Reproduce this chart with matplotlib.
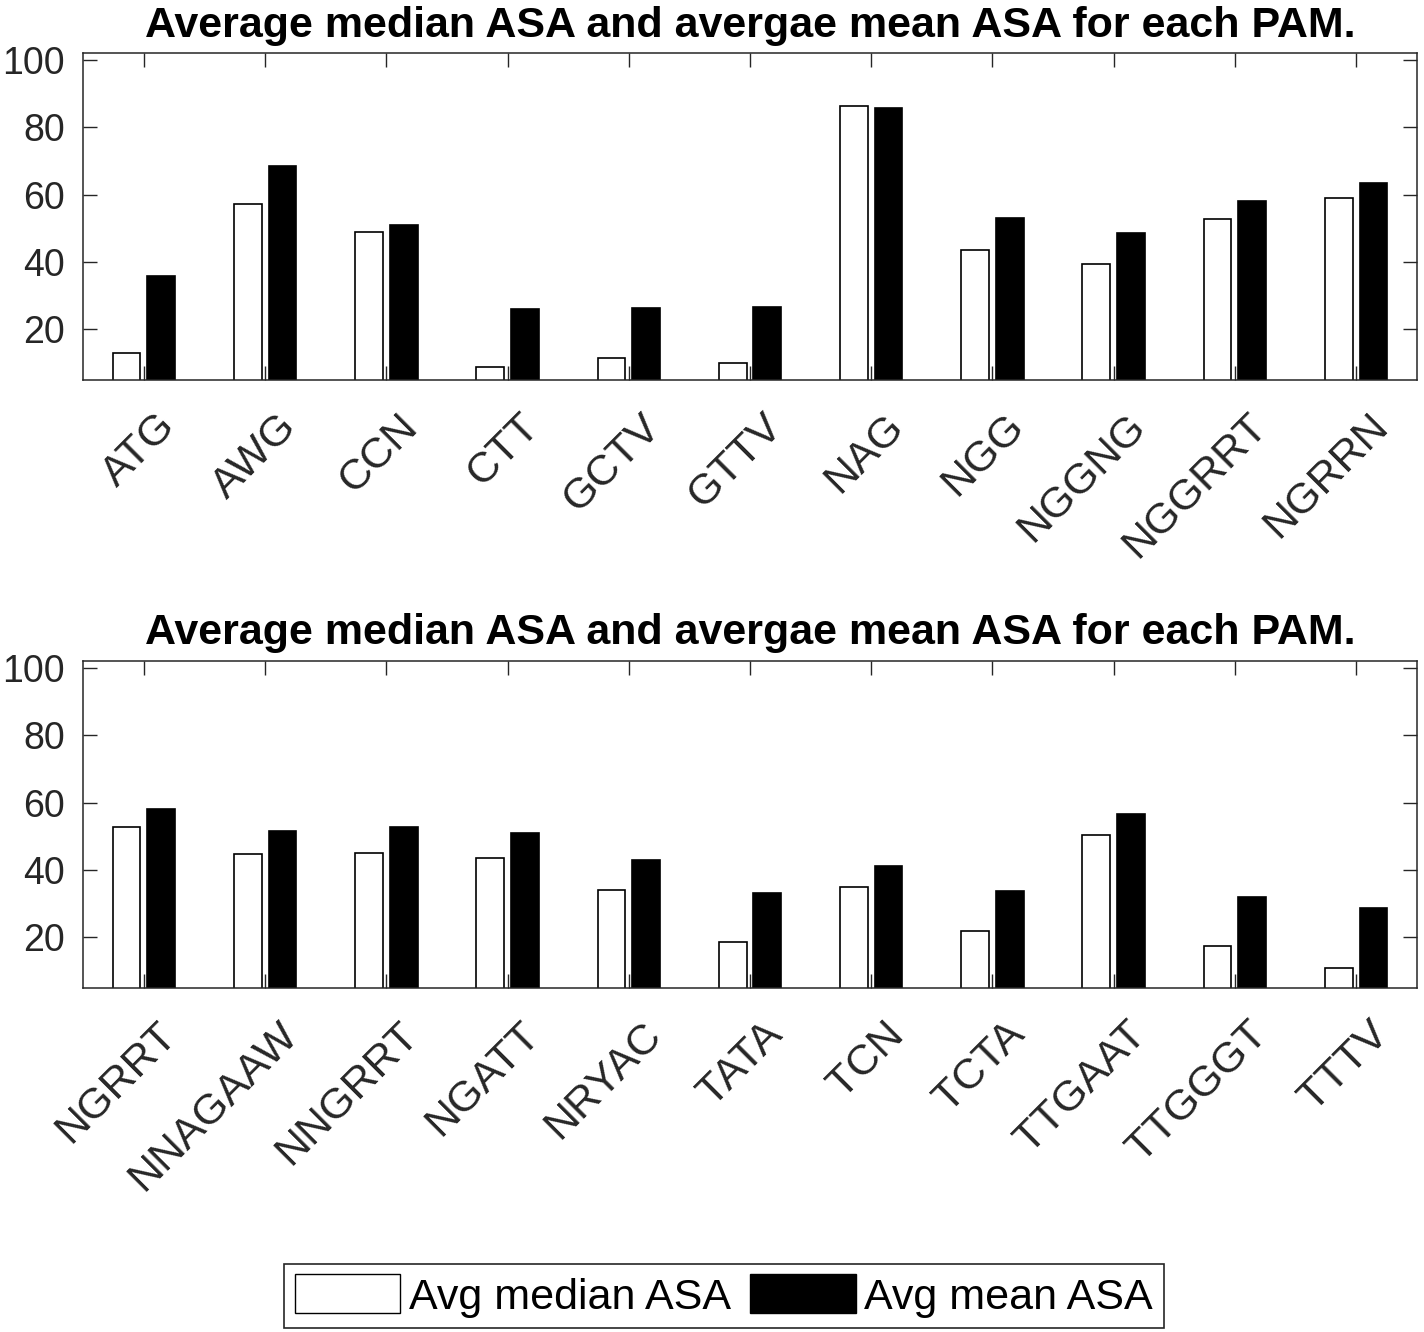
import numpy as np
import matplotlib
matplotlib.use("Agg")
from matplotlib import pyplot as plt
from matplotlib import font_manager
from matplotlib.patches import Patch
from matplotlib.transforms import ScaledTranslation

# PAM names and ASA values
pams_top = ["ATG", "AWG", "CCN", "CTT", "GCTV", "GTTV", "NAG", "NGG", "NGGNG", "NGGRRT", "NGRRN"]
median_top = [12.9, 57.4, 48.9, 8.9, 11.5, 10.1, 86.3, 43.6, 39.4, 52.8, 59.0]
mean_top = [36.0, 68.5, 51.1, 26.1, 26.5, 26.7, 85.7, 53.1, 48.5, 58.0, 63.5]

pams_bottom = ["NGRRT", "NNAGAAW", "NNGRRT", "NGATT", "NRYAC", "TATA", "TCN", "TCTA", "TTGAAT", "TTGGGT", "TTTV"]
median_bottom = [52.8, 44.8, 45.0, 43.5, 34.2, 18.5, 35.1, 22.0, 50.4, 17.6, 11.0]
mean_bottom = [58.1, 51.7, 52.7, 50.9, 42.9, 33.1, 41.1, 33.7, 56.5, 32.0, 28.6]

yticks = [20, 40, 60, 80, 100]
title = "Average median ASA and avergae mean ASA for each PAM."

installed = {f.name for f in font_manager.fontManager.ttflist}
narrow = "Liberation Sans Narrow" if "Liberation Sans Narrow" in installed else "Liberation Sans"

plt.rcParams['font.family'] = ['Liberation Sans', 'DejaVu Sans']
axis_col = "#262626"

fig = plt.figure(figsize=(14.24, 13.32), dpi=100)

ax_rects = [
    [83.3 / 1424, 1 - 380 / 1332, (1416.7 - 83.3) / 1424, (380 - 53.3) / 1332],
    [83.3 / 1424, 1 - 988 / 1332, (1416.7 - 83.3) / 1424, (988 - 661) / 1332],
]
panels = [(pams_top, median_top, mean_top), (pams_bottom, median_bottom, mean_bottom)]

w = 0.229
for rect, (names, med, mean) in zip(ax_rects, panels):
    ax = fig.add_axes(rect)
    x = np.arange(1, len(names) + 1)
    ax.bar(x - 0.143, med, width=w, color="white", edgecolor="black", linewidth=1.2, zorder=2)
    ax.bar(x + 0.143, mean, width=w, color="black", edgecolor="black", linewidth=1.2, zorder=2)
    ax.set_xlim(0.5, len(names) + 0.5)
    ax.set_ylim(5, 102)
    ax.set_yticks(yticks)
    ax.set_xticks(x)
    ax.set_axisbelow(True)
    ax.tick_params(direction="in", length=10, width=1, color=axis_col,
                   top=True, right=True, labelsize=27, labelcolor=axis_col)
    ax.tick_params(axis="y", pad=13)
    ax.tick_params(axis="x", pad=29, labelsize=31)
    ax.set_xticklabels(names, rotation=45, ha="right", va="center", rotation_mode="anchor")
    shift = ScaledTranslation(0.26, 0, fig.dpi_scale_trans)
    for lab in ax.get_xticklabels():
        lab.set_transform(lab.get_transform() + shift)
    for sp in ax.spines.values():
        sp.set_color(axis_col)
        sp.set_linewidth(1.1)
    ax.set_title(title, fontsize=31, fontweight="bold", family=[narrow, 'DejaVu Sans'], pad=12)

handles = [Patch(facecolor="white", edgecolor="black", linewidth=1),
           Patch(facecolor="black", edgecolor="black", linewidth=1)]
leg = fig.legend(handles, ["Avg median ASA", "Avg mean ASA"], ncol=2, loc="center",
                 bbox_to_anchor=(724 / 1424, 1 - 1296 / 1332),
                 prop={"family": [narrow, 'DejaVu Sans'], "size": 31},
                 fancybox=False, edgecolor=axis_col, framealpha=1,
                 handlelength=2.45, handleheight=1.0, handletextpad=0.2,
                 columnspacing=0.45, borderpad=0.25, borderaxespad=0)
leg.get_frame().set_linewidth(1.2)

fig.savefig("out.png", dpi=100)
